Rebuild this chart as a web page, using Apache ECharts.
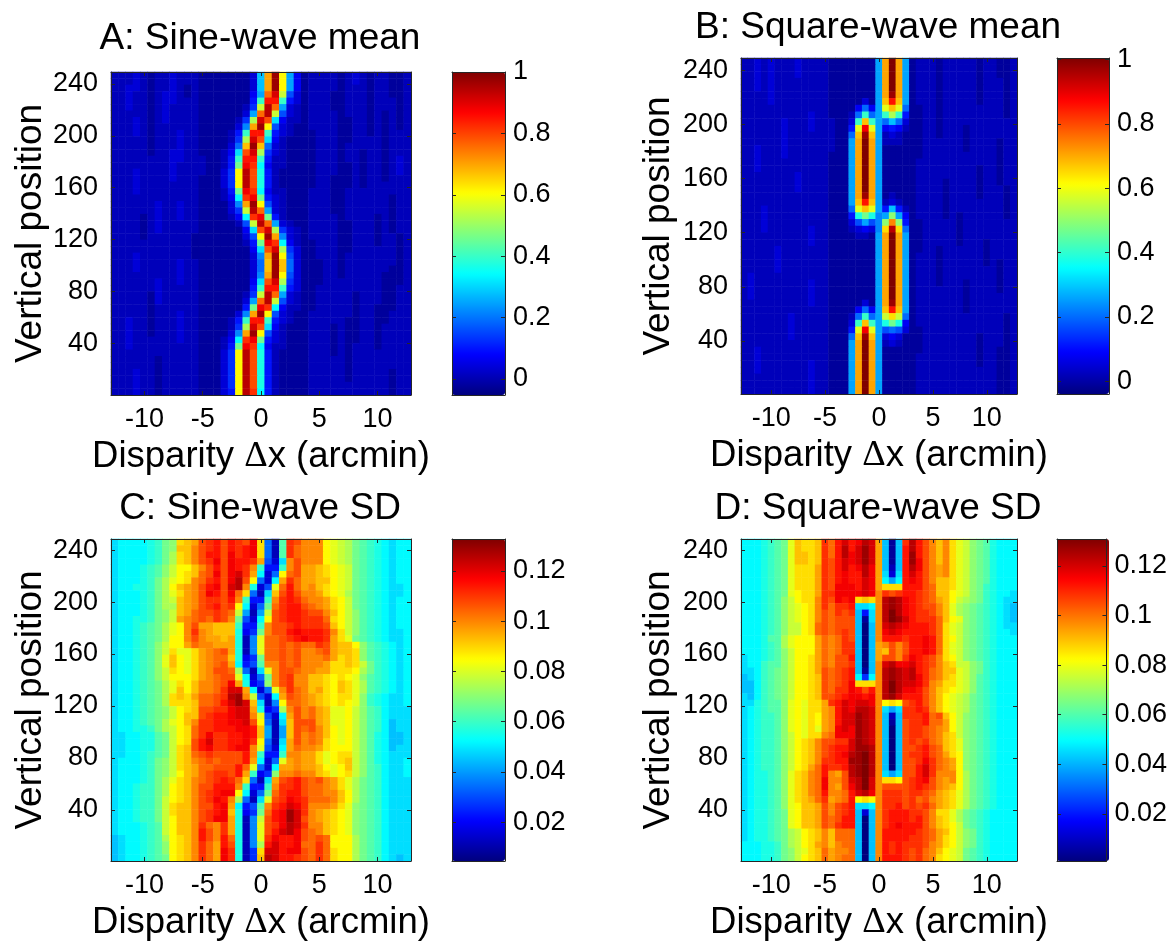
<!DOCTYPE html>
<html><head><meta charset="utf-8">
<script src="https://cdn.jsdelivr.net/npm/echarts@6/dist/echarts.min.js"></script>
<style>html,body{margin:0;padding:0;background:#fff}#c{width:1170px;height:942px;filter:blur(0.55px)}</style>
</head><body><div id="c"></div>
<script>
// Each character is one cell: level 0-9a-z (0..35) along the colour range.
const sineMeanRows=[
"222321223222111 11113bpyma4 122221232122112",
"222321223222111 11113bpyma4 122221232122112",
"223321223212111 11113bpyma4 122221222122112",
"223221233212111 11114arwk73 122211222122112",
"223221233222111 11115fuuf53 122211222122212",
"223221232222111 11126kxra32 122211222122212",
"222221232222111 1113arxk732 122221222121212",
"222321232222111 1126jwsc422 122221122121212",
"222321222222111 1139pym7321 122221122121212",
"222321222322111 125fuuf5321 112221122121222",
"222221222322111 126jwsc4211 112221122221222",
"222221222322111 138oyo83211 112221222221222",
"222221223322111 24cswj63211 112221221221222",
"222222223322211 25fuuf52211 112221221221232",
"222222223222211 25hvtd42211 112221121221232",
"222322223222211 36mxse52111 112221121221232",
"222322223222111 36mxse52111 112211121221222",
"222322222222111 36mxse52111 112211121222222",
"222322222222111 25hvtd42211 122211222222222",
"222222222222111 24dtvh53211 122211222222122",
"222222322322111 139pym73211 122211222222122",
"222222322322111 136kxra3211 122211222222122",
"222212322322111 124dtvh5211 122221222212122",
"222212322222111 1127kxra321 122221122212122",
"222212322222111 1114cswj632 122221122212122",
"222212222221111 11137myp932 122221122212212",
"222222222221111 11125hvtd42 112221122212212",
"222222222221111 11114cswj63 112221122222212",
"222322222221111 111139pym73 112221222222212",
"222322222322111 111138oyo83 111221222222212",
"222322222322111 111138oyo83 111221222222112",
"222222222322111 111139pym73 111221222221112",
"222222322322111 11114cswj63 111222222221112",
"222222322222111 11115fuuf53 112222222221122",
"222221322222111 11126kxra32 112222212221122",
"222221322222111 1113arxk732 112222212221122",
"222221222222111 1115hvtd422 112222212211122",
"222221222322111 1139pym7321 122222212211222",
"223221222322111 125fuuf5321 122222112211222",
"223221222322111 126jwsc4211 122212112212222",
"223221222322111 139pym73211 122212112212222",
"223222222322111 24dtvh53211 122212112212222",
"223222222222111 25hvtd42211 122212122212222",
"222222222222111 36mxse52111 122212122222222",
"222222122222111 36mxse52111 122222122222222",
"222222122222111 36mxse52111 122222122222222",
"222322122222111 36mxse52111 122222122222122",
"222322122222111 36mxse52111 122222122222122",
"222322122222111 36mxse52111 122222222222122",
"222322122222111 35mxtd52111 122222222222122"];
const squareMeanRows=[
"2232322232222111 1111apzpa 1222122222122112",
"2232322232222111 1111apzpa 1222122222122112",
"2232322232222111 1111apzpa 1222122222122112",
"2232322222222111 1111apzpa 1222122222122212",
"2232322222222111 1111apzpa 1222122222122212",
"2222322222222111 1111apypa 1222122222122212",
"2222322222222111 1131aouoa 1222122222122212",
"2222222222222111 1484alol8 1122122222222212",
"2222222222322111 28f8afjf5 1122122222222212",
"2222223222322211 3fofa8b83 1122122222222222",
"2222223222322211 5lvla4542 1122122212222222",
"2222223222222211 8oyoa2321 1122122212222222",
"2222223222222211 apzpa2221 1122222212222122",
"2232223222222211 apzpa1111 1122222212222122",
"2232223222222111 apzpa1111 1122222222222122",
"2232222222222111 apzpa1111 1222222222222122",
"2232222222222111 apzpa1111 1222222222122122",
"2222222232222111 apzpa1111 1222222222122122",
"2222222232222111 apzpa1111 1222212222122122",
"2222222232222111 apzpa1111 1222212222122212",
"2222222222222111 apypa1211 1222212222122212",
"2222222222222111 aouoa2321 1222212222222212",
"2223222222222111 8lola5b52 1222212222222212",
"2223222222222111 5ehe9aia4 1222212122222212",
"2223222222222111 37a79iqi5 1122222122222222",
"2223222222322111 23439nxn8 1122222122222222",
"2222222222322111 1221apzpa 1122222122222222",
"2222222222322111 1111apzpa 1122222122212222",
"2222232222222111 1111apzpa 1122122222212222",
"2222232222222111 1111apzpa 1222122222212222",
"2222232222222111 1111apzpa 1222122222212122",
"2222232222222111 1111apzpa 1222122222222122",
"2322222222222111 1111apzpa 1222122222222122",
"2322222222322111 1111apzpa 1222122212222122",
"2322222222322111 1111apzpa 1222222212222122",
"2322222222322111 1111apzpa 1222222212222222",
"2222222222322111 1131apypa 1222222212222222",
"2222222222222111 1484aouoa 1222222212222222",
"2222222322222111 28f8aknk8 1222222222222212",
"2222222322222111 3fofaehe4 1222222222222212",
"2222222322222111 5lvla7873 1122222222222212",
"2222222322222111 8oyoa3431 1122222222122212",
"2222222222222111 apzpa2321 1122222222122212",
"2232222222222111 apzpa1111 1122222222122112",
"2232222222222111 apzpa1111 1222222222122112",
"2232222222322111 apzpa1111 1222222222122112",
"2232222222322111 apzpa1111 1222222222222112",
"2222222222322111 apzpa1111 1222222222222112",
"2222222222322111 apzpa1111 1222222222222112",
"2222222222322111 apzpa1111 1222222222222112"];
const sineSdRows=[
"cddddefhinopstus utsvn82gtsq qqmlkjhgfedcdd",
"cddddefhiooqstus utuvn82gtrq qqmlkjhgfedcdd",
"cddddefhjnoqsuus vtuvn82gtrq qqmlkjhgfedcdd",
"cddddefhjnoqstvs vuutp73cqsq qqmlkjhgfedcdd",
"cdddefgikmmoqsus vutqf55fqsp ponmlkhgfedcdd",
"cdddefgikmnorsvs vwtpd38mrsp ponmlkhgfedcdd",
"cdddefhjlmnqrtus vxsm83dptrp poomlkhgfedcdd",
"cddeefhjmopqsuvs wxqe37lrurp qonmlkhgfedccd",
"cdddefhjlnpqsvus vrn82cosusq qpnmljhgfedccd",
"cdddefhjkopqstts uqf55fqtutr qqpnmkhgfedcdd",
"cdddefhjjopqstus tmd38hrtuus rqpnmkhgfedcdd",
"cdddefhikoprssts rka2akstuut ssqomkigfedcdd",
"cddeefhikpqrsrts qh73dmstuut ttrnmkigfedcdd",
"cddefghjlmqsppoo of55fqsstut ttsomkigfedcdd",
"cddefghjlmqtqpoo oe46hqssuvu uutqnkigfedccd",
"cddefghjmmqsqppo pe29lrrstuv uutpnlhgfedccd",
"cddefgikmmprqqpp pe29lrrsrsr rtspoomigfedcd",
"cddefgiknllnpqrs pe29lrrsrsq qrspoonigfedcd",
"cddefgilomlnpqrr oe46hrrsrsq qqrpnonigfedcd",
"cddefgilomlnpqrs pd57gqqsrsq qqpnnonkhfedcd",
"cddefgiknmlnpqss rj82clqssrq qppnnnmjhfedcd",
"cddefgikmmmnpqrs sld38hqstqq oonmnmligfedcd",
"cddefghjlnmoqqrs vpe46iqstqq oonmonljgfedcd",
"cddefghjlomoqqrt wwpd38lqtrq opnmonljgfedcd",
"cddefghjnonprrst xyqk73dpsrq ponmnnlifedccd",
"cddefghjnnnorrsu wywoc29mrrq ponmnmlifedccd",
"cddefghikmnosstt vwwpe46jqsq rpollmkigfdccc",
"cddefghikmoostuu vwwql73dpsq rpollmkigfdccc",
"cddefghjlmoqttuu vvwsm82coss spollmkigfdbcc",
"cddeefhjkmnrttuu uvvuoa2aosr sqomlmkigfdbcc",
"ccddeeghkmnrtvtt uuvuoa2aosq rqomlmkigedbbc",
"ccddeeghkmnsuwtt uuvtm82cpsq rqnmlmkigedbbc",
"ccddeeghknosuvtt uvvql73dprq qpnmmmkigedbcc",
"ccddefghknorstss ssuqf55fqqp pnlmnnkigedccc",
"cdddefhiknoqrsrs ssupd38lpqp pnlmnokigedccd",
"cdddefhiknoprrss surl83dppqp pomlmokigfdccd",
"cdddefhikmoprstt supf46iqqrq qonlmnkigfdccd",
"cdddefhjlnoqrstu trn82cpstus rsqpnljhgfdccc",
"cddeffhjmnoqssuu uqf55fqttus rrqpnljhgfdccc",
"cddeffhjmnoqstuv vmd38hrtuus rrqqomjhgfdccc",
"cddeffhkmnoqstvu qj82clstvut rrrqomjhgfdccc",
"cddeffhknooqssuv pd57gqtuwvt qqqpnlihgfdccc",
"cddeffhknooqstuv oe46hruvywt qponmlihgfdccc",
"cddeffhkmooqstvv pe29ksuvyws qponmlihgfdccc",
"cdddefgkmooqtrqt pe29lstvxwt qqonmlihgfdccc",
"cdddefgkmooqusqt pe29lsuwxvs rqonmlihgfdccc",
"bcddefgjmnoqusqu re29ltvuuvs rsrmmmjhgfdccc",
"bcddefgimnoqtrpu se29juwuuvr rtrmmmjhgfdccc",
"bcddefgimnoqtrpv te26nwwuvvs rtrnmmjhgfdccc",
"bcddefghmnoqtrpv te26oxwuuts rtrnmmjhgfdcbc"];
const squareSdRows=[
"dddefghlonnotruwu vxwpb1b txusqoqnlkihgeddd",
"dddefghlonnotruxu wywpb1b uxusqoqnlkihgeddd",
"dddefghloonotruxv wywpb1b uyusqoqnlkihgeddd",
"dddefghloonotsuwv wywpb1b uyvsqoqnlkihgeddd",
"dddefghlnnnptsuwu vxvpb2b uxvsqpqnlkihgeddd",
"dddefghlnnnptsuvu uxvpc3c uwusqpqnlkihgeddd",
"dddefghlnnnptsuvu uwvpdad uvusqoonlkihgeddd",
"dddefghlnnnptsvvv uwvpnnn uuusroonlkihfeddd",
"dddefghlmnnpttvvv vwvqtst uutsroomlkihfeddc",
"dddefgikmnnqtsvuv nonqxyx vutsrpomkjihfedcc",
"dddefgiklmnqtrttu ccdqxyx vutssqoljihgfedcb",
"dddefgiklmnqsrtst b5cqxzx vuttsqoljihgfedcb",
"dddefgiklmnqsrsss b1cqxzy wutttromlihgfedcb",
"dddefgikkmnrsrsss b0bqwxw vuuutrnlkihgfedcc",
"dddefgikkmnrsrsts b0bqvwv uuuutrnlkihgfeddc",
"dddeggjlmmmprqrts b0bquuu tuuvurnmkihgfeddd",
"dddefgjlmmmprqrtt b0bpqsq suuvurnlkihgfeddd",
"dddefgikmmmprqrtt b0bposq suuvurnlkihgfeddd",
"cddefgikmmnprqssu b0bpssq tvutsqnmkihgfeddd",
"cddfggikmmnprqsst b0bqwxv vwutsqonkkihfeddd",
"ccdfghikmmnpsrstu b1bqxyx wxutrqoolkihfeddd",
"bcdfghikmmnosrstu d6dqxyx wxvtrqonlkigfeddd",
"bbdfghikmmnosrstv nnnqxzx wwvtqpnnlkigfeddd",
"bbdfghikmmnosrttv usuqxzx vvusqonmlkigfeddd",
"cbdfghikmmnosstuv vuvqxyw uuusqomlkjhgfeddd",
"ccefggilmlnnptuwv wwvqmnm stusqomlkjhgfeddd",
"cdefggilmlnnpquwv xxwqcac ttutqomlkjhgfeddd",
"cdeffgilmlnmpquww yxwqb2b tttursomkihgfeddd",
"cdeffgilmlnmpquww yxwqb1b stturrpmkihgfeddd",
"cdeffgilmlnlpqvwv yxwqb0b sttsrqpmkihgfeddd",
"cdeffgikmlnnqrvvv yxwqb0b sttsrqonkihgfeddd",
"cdeffgikmnoqssttw yxwqb0b ststrqonlihgfeddd",
"cdeffgikmnoqstuuw yyxqb0b sstusronlihgfeddd",
"cdeffgikmnoqstuvx yzxqb0b sttusrpnmihgfeddd",
"cdeffgikmnoqttuuy yzxqb0b sstvtrqpmihgfeddd",
"cdeffgikmnpruttux yzxqb0b ssuwtrqpmihgfeddd",
"cdeefgilnoqruqpsx yzxqcac ssuwtqqqmjhgfeddd",
"cdeefgilnoqrvqqsw xzwqnnm stuvsqpqmjhgfeddd",
"cdeefgilnoqrvqpsv xzwqsss stutsqpomjhgfeddd",
"cdeefgilnoqruqqru wxvqttt sttsrponljhgfeddd",
"cdeefgilnoprtpqru mnmqttt strsqponljhgfeddd",
"cdeefgilmoopsqstu ccdqttu ststrponljhgfeddd",
"cdeefghlmoopsqstu b3bqtuu uttsqnnljhgfedddd",
"cdeefghlmoopsrsuu b0bqtuu utusqonljhgfedddd",
"cdeefghlmoopsrtuu b0bqtuv uuusqonmkhgfedddd",
"cdeefghjkmnoqorrr b0bquuu uutsrpomkihfedddd",
"cdeefghjkmnoqorrr b0bquuu uttsrpnmkihfedddd",
"dddeefhjkmnpqoqrr b0bqutu tttsqpnmkihfedddd",
"dddeefhiklnorpqqr b0bqutu tstrqomlkhgfedddd",
"dddeefhikmnorpqrr b0bquuu tstrqnmlkhgfedddd"];

const xTicks=[-10,-5,0,5,10];
const yTicks=[40,80,120,160,200,240];
const meanSineTicks=[0,0.2,0.4,0.6,0.8,1];
const meanSquareTicks=[0,0.2,0.4,0.6,0.8,1];
const sdSineTicks=[0.02,0.04,0.06,0.08,0.1,0.12];
const sdSquareTicks=[0.02,0.04,0.06,0.08,0.1,0.12];
const jet=['#00007F','#0000FF','#007FFF','#00FFFF','#7FFF7F','#FFFF00','#FF7F00','#FF0000','#7F0000'];
const axisColor='#262626';
const FONT='"Liberation Sans",Arial,sans-serif';

const panels=[
 {title:'A: Sine-wave mean',rows:sineMeanRows,ticks:meanSineTicks,lo:-0.052,hi:1.0,x:111,y:72,w:300,h:323,xr:12.87,yr:[-0.1,249.3],bx:452,bw:53,tx:260,ty:20,nameGap:61},
 {title:'B: Square-wave mean',rows:squareMeanRows,ticks:meanSquareTicks,lo:-0.04,hi:1.005,x:741,y:58,w:276,h:336,xr:12.8,yr:[0.9,248.9],bx:1057,bw:52,tx:878,ty:9,nameGap:64},
 {title:'C: Sine-wave SD',rows:sineSdRows,ticks:sdSineTicks,lo:0.0045,hi:0.1327,x:111,y:539,w:300,h:322,xr:12.87,yr:[0.8,248.5],bx:452,bw:53,tx:260,ty:490,nameGap:61},
 {title:'D: Square-wave SD',rows:squareSdRows,ticks:sdSquareTicks,lo:0.001,hi:0.1309,x:741,y:539,w:276,h:322,xr:12.8,yr:[0.8,248.5],bx:1057,bw:52,tx:878,ty:490,nameGap:64}
];

function cells(rows,lo,hi){
  const out=[];
  rows.forEach((s,r)=>{
    const t=s.replace(/ /g,'');
    for(let c=0;c<t.length;c++){
      out.push([c,rows.length-1-r,+(lo+parseInt(t[c],36)/35*(hi-lo)).toFixed(4)]);
    }
  });
  return out;
}
const idx=n=>Array.from({length:n},(_,i)=>i);
const line={show:true,onZero:false,lineStyle:{color:axisColor,width:1}};
const tick=(vals)=>({show:true,inside:true,length:4,customValues:vals,lineStyle:{color:axisColor,width:1}});
const grid=[],xAxis=[],yAxis=[],series=[],visualMap=[],title=[];
panels.forEach((p,i)=>{
  const g=grid.length;
  grid.push({left:p.x,top:p.y,width:p.w,height:p.h,containLabel:false});
  grid.push({left:p.bx,top:p.y,width:p.bw,height:p.h,containLabel:false});
  const xc=xAxis.length,yc=yAxis.length;
  xAxis.push({type:'category',gridIndex:g,show:false,position:'bottom',data:idx(41)});
  yAxis.push({type:'category',gridIndex:g,show:false,position:'left',data:idx(p.rows.length)});
  xAxis.push({type:'value',gridIndex:g,position:'bottom',min:-p.xr,max:p.xr,z:10,axisLine:line,splitLine:{show:false},
    axisTick:tick(xTicks),axisLabel:{customValues:xTicks,color:'#000',fontFamily:FONT,fontSize:27,margin:11,hideOverlap:false},
    name:'{t|Disparity }{d|\u0394}{t|x (arcmin)}',nameLocation:'middle',nameGap:43,
    nameTextStyle:{verticalAlign:'top',rich:{t:{fontFamily:FONT,fontSize:36.5,color:'#000'},d:{fontFamily:'"Liberation Serif",serif',fontSize:36.5,color:'#000'}}}});
  xAxis.push({type:'value',gridIndex:g,position:'top',min:-p.xr,max:p.xr,z:10,axisLine:line,splitLine:{show:false},axisTick:tick(xTicks),axisLabel:{show:false}});
  yAxis.push({type:'value',gridIndex:g,position:'left',min:p.yr[0],max:p.yr[1],z:10,axisLine:line,splitLine:{show:false},
    axisTick:tick(yTicks),axisLabel:{customValues:yTicks,color:'#000',fontFamily:FONT,fontSize:27,margin:13},
    name:'Vertical position',nameLocation:'middle',nameGap:p.nameGap,nameRotate:90,
    nameTextStyle:{fontFamily:FONT,fontSize:37,color:'#000'}});
  yAxis.push({type:'value',gridIndex:g,position:'right',min:p.yr[0],max:p.yr[1],z:10,axisLine:line,splitLine:{show:false},axisTick:tick(yTicks),axisLabel:{show:false}});
  series.push({type:'heatmap',xAxisIndex:xc,yAxisIndex:yc,data:cells(p.rows,p.lo,p.hi),progressive:0,animation:false,emphasis:{disabled:true}});
  visualMap.push({type:'continuous',seriesIndex:i,dimension:2,min:p.lo,max:p.hi,calculable:false,realtime:false,text:null,
    left:p.bx,top:p.y,itemWidth:p.bw,itemHeight:p.h,padding:0,borderWidth:0,z:1,hoverLink:false,inRange:{color:jet}});
  // colour-bar frame and ticks
  xAxis.push({type:'value',gridIndex:g+1,position:'bottom',min:0,max:1,z:10,axisLine:line,axisTick:{show:false},axisLabel:{show:false},splitLine:{show:false}});
  xAxis.push({type:'value',gridIndex:g+1,position:'top',min:0,max:1,z:10,axisLine:line,axisTick:{show:false},axisLabel:{show:false},splitLine:{show:false}});
  yAxis.push({type:'value',gridIndex:g+1,position:'right',min:p.lo,max:p.hi,z:10,axisLine:line,splitLine:{show:false},axisTick:tick(p.ticks),
    axisLabel:{customValues:p.ticks,formatter:v=>String(v),color:'#000',fontFamily:FONT,fontSize:27,margin:8}});
  yAxis.push({type:'value',gridIndex:g+1,position:'left',min:p.lo,max:p.hi,z:10,axisLine:line,splitLine:{show:false},axisTick:tick(p.ticks),axisLabel:{show:false}});
  title.push({text:p.title,left:p.tx,top:p.ty,textAlign:'center',padding:0,textStyle:{fontFamily:FONT,fontSize:37,fontWeight:'normal',color:'#000'}});
});
const chart=echarts.init(document.getElementById('c'),null,{renderer:'canvas'});
chart.setOption({animation:false,backgroundColor:'#fff',title,grid,xAxis,yAxis,series,visualMap});
</script></body></html>
